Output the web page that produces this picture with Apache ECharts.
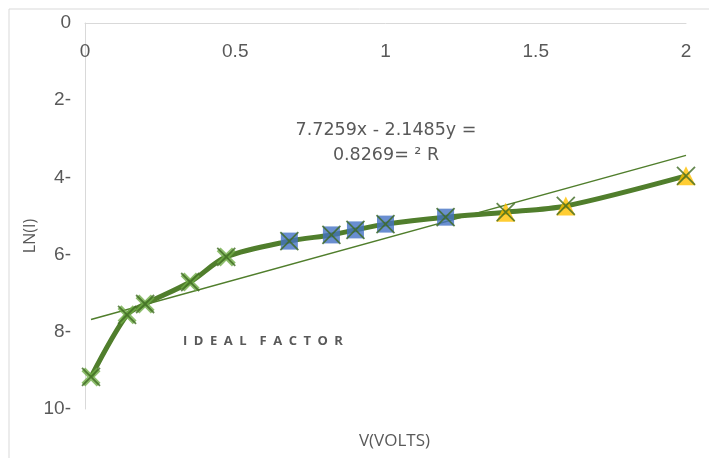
<!DOCTYPE html>
<html>
<head>
<meta charset="utf-8">
<script src="https://cdn.jsdelivr.net/npm/echarts@6/dist/echarts.min.js"></script>
<style>
  html, body { margin: 0; padding: 0; background: #fff; }
  #main { width: 709px; height: 458px; }
</style>
</head>
<body>
<div id="main"></div>
<script>
// voltage (V) and ln(I), split the same way the markers are coloured
const greenV = [0.02, 0.14, 0.2, 0.35, 0.47];
const greenLn = [-9.17, -7.56, -7.28, -6.71, -6.06];
const blueV = [0.68, 0.82, 0.9, 1.0, 1.2];
const blueLn = [-5.65, -5.49, -5.36, -5.21, -5.03];
const yellowV = [1.4, 1.6, 2.0];
const yellowLn = [-4.90, -4.74, -3.96];

// linear fit y = 2.1485x - 7.7259
const slope = 2.1485;
const intercept = -7.7259;
const trendV = [0.02, 2.0];

const xTicks = [0, 0.5, 1, 1.5, 2];
const yTicks = [0, -2, -4, -6, -8, -10];

const lineColor = '#507E2C';
const textColor = '#595959';

const allV = greenV.concat(blueV, yellowV);
const allLn = greenLn.concat(blueLn, yellowLn);
const pairs = (xs, ys) => xs.map((x, i) => [x, ys[i]]);

const crossPath = 'path://M0,0L10,10M10,0L0,10';
const fatCross = 'path://M2,0L5,3L8,0L10,2L7,5L10,8L8,10L5,7L2,10L0,8L3,5L0,2Z';
const sp = '\u2002';

const chart = echarts.init(document.getElementById('main'));
chart.setOption({
  animation: false,
  textStyle: { fontFamily: 'Liberation Sans' },
  grid: { left: 85, top: 23, right: 23, bottom: 49 },
  xAxis: {
    type: 'value',
    position: 'top',
    min: 0, max: 2, interval: 0.5,
    name: 'V(VOLTS)',
    nameLocation: 'middle',
    nameGap: -427,
    nameTextStyle: { color: textColor, fontSize: 17, fontFamily: 'Open Sans', padding: [0, 0, 0, 18] },
    axisLine: { show: true, lineStyle: { color: '#d9d9d9', width: 1 } },
    axisTick: { show: false },
    splitLine: { show: false },
    axisLabel: {
      inside: true, margin: 19, color: textColor, fontSize: 19,
      formatter: v => xTicks.includes(v) ? String(v) : ''
    }
  },
  yAxis: {
    type: 'value',
    min: -10, max: 0, interval: 2,
    axisLine: { show: true, lineStyle: { color: '#d9d9d9', width: 1 } },
    axisTick: { show: false },
    splitLine: { show: false },
    axisLabel: {
      margin: 14, color: textColor, fontSize: 19,
      formatter: v => yTicks.includes(v) ? (v === 0 ? '0' : (-v) + '-') : ''
    }
  },
  graphic: [
    { type: 'rect', shape: { x: 9, y: 9, width: 720, height: 470 },
      style: { fill: 'none', stroke: '#d9d9d9', lineWidth: 1 }, silent: true },
    { type: 'text', x: 30, y: 236, rotation: Math.PI / 2,
      style: { text: 'LN(I)', fill: textColor, fontSize: 16, fontFamily: 'Open Sans',
        textAlign: 'center', textVerticalAlign: 'middle' } },
    { type: 'text', x: 386, y: 121,
      style: { text: '7.7259x - 2.1485y =', fill: textColor, fontSize: 17.5,
        fontFamily: 'DejaVu Sans', textAlign: 'center' } },
    { type: 'text', x: 386, y: 146,
      style: { text: '0.8269= ² R', fill: textColor, fontSize: 17.5,
        fontFamily: 'DejaVu Sans', textAlign: 'center' } },
    { type: 'text', x: 183, y: 335,
      style: { text: 'IDEAL'.split('').join(sp) + sp + sp + 'FACTOR'.split('').join(sp),
        fill: textColor, fontSize: 13, fontWeight: 'bold', fontFamily: 'Open Sans' } }
  ],
  series: [
    {
      type: 'line',
      data: pairs(trendV, trendV.map(v => slope * v + intercept)),
      showSymbol: false,
      lineStyle: { color: lineColor, width: 1.5 },
      z: 2
    },
    {
      type: 'line',
      data: pairs(allV, allLn),
      smooth: 0.3,
      showSymbol: false,
      lineStyle: { color: lineColor, width: 5 },
      z: 3
    },
    {
      type: 'scatter',
      data: pairs(greenV, greenLn),
      symbol: fatCross,
      symbolSize: 19,
      itemStyle: { color: '#70AD47' },
      z: 4
    },
    {
      type: 'scatter',
      data: pairs(blueV, blueLn),
      symbol: 'rect',
      symbolSize: 17,
      itemStyle: { color: '#4472C4' },
      z: 4
    },
    {
      type: 'scatter',
      data: pairs(yellowV, yellowLn),
      symbol: 'triangle',
      symbolSize: 19,
      itemStyle: { color: '#FFC000' },
      z: 4
    },
    {
      type: 'scatter',
      data: pairs(allV, allLn),
      symbol: crossPath,
      symbolSize: 18,
      itemStyle: { color: 'none', borderColor: '#3F6A22', borderWidth: 1.8 },
      z: 5
    }
  ]
});
</script>
</body>
</html>
